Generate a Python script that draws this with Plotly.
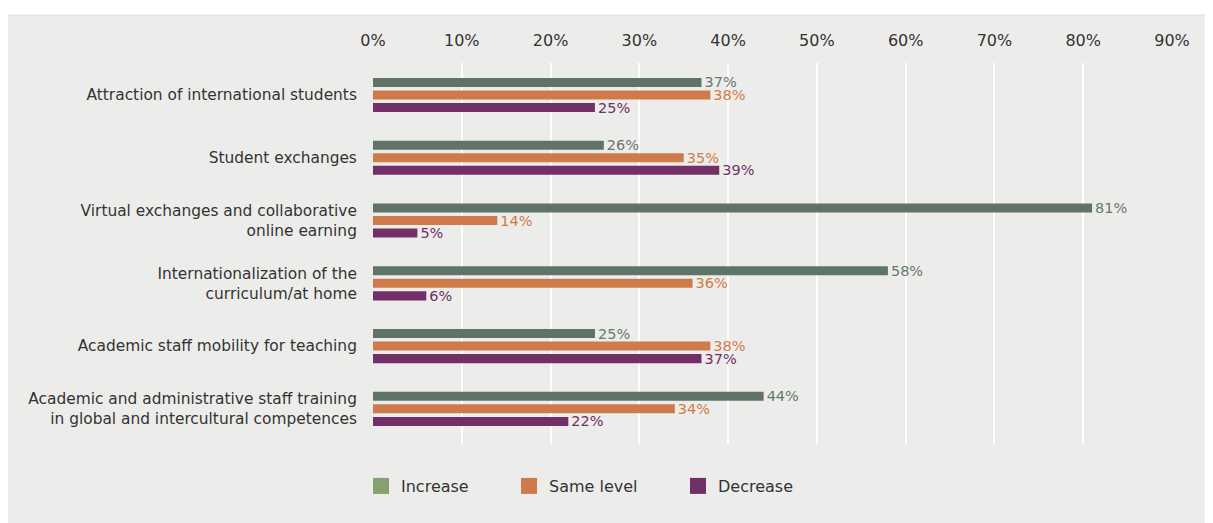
import plotly.graph_objects as go

categories = [
    "Attraction of international students",
    "Student exchanges",
    "Virtual exchanges and collaborative<br>online earning",
    "Internationalization of the<br>curriculum/at home",
    "Academic staff mobility for teaching",
    "Academic and administrative staff training<br>in global and intercultural competences",
]
increase = [37, 26, 81, 58, 25, 44]
same_level = [38, 35, 14, 36, 38, 34]
decrease = [25, 39, 5, 6, 37, 22]
series_names = ["Increase", "Same level", "Decrease"]
tick_vals = [0, 10, 20, 30, 40, 50, 60, 70, 80, 90]
tick_text = ["0%", "10%", "20%", "30%", "40%", "50%", "60%", "70%", "80%", "90%"]

bar_colors = ["#5f7367", "#cf7a4a", "#722f68"]
label_colors = ["#66786c", "#d07a48", "#722f68"]
legend_colors = ["#86a070", "#cf7a4a", "#722f68"]
FONT = "DejaVu Sans"

fig = go.Figure()
for name, vals, bc, lc in zip(series_names, [increase, same_level, decrease], bar_colors, label_colors):
    fig.add_trace(go.Bar(
        name=name, y=categories, x=vals, orientation="h",
        marker=dict(color=bc, line=dict(width=0)),
        text=[f"{v}%" for v in vals], textposition="outside",
        constraintext="none",
        textfont=dict(color=lc, size=14.5, family=FONT),
        cliponaxis=False, showlegend=False,
    ))

legend_keys = ["legend", "legend2", "legend3"]
for name, lc, lk in zip(series_names, legend_colors, legend_keys):
    fig.add_trace(go.Scatter(
        x=[None], y=[None], mode="markers", name=name,
        marker=dict(symbol="square", size=16, color=lc),
        legend=lk, showlegend=True,
    ))

OFF = 8  # page body margin
W, H = 1213 - OFF, 523 - OFF
L, R, T, B = 373 - OFF, 41, 63 - OFF, 79
pw = W - L - R
ph = H - T - B

def px_to_paper_x(px):
    return (px - OFF - L) / pw

def py_to_paper_y(py):
    return (H - B - (py - OFF)) / ph

legend_common = dict(
    orientation="h", bgcolor="rgba(0,0,0,0)", yanchor="middle",
    font=dict(family=FONT, size=16, color="#333333"),
)
fig.update_layout(
    width=W, height=H,
    margin=dict(l=L, r=R, t=T, b=B),
    paper_bgcolor="white", plot_bgcolor="rgba(0,0,0,0)",
    barmode="group", bargap=0.40, bargroupgap=0.28,
    font=dict(family=FONT, size=15, color="#333333"),
    legend=dict(x=px_to_paper_x(361), y=py_to_paper_y(486), **legend_common),
    legend2=dict(x=px_to_paper_x(509), y=py_to_paper_y(486), **legend_common),
    legend3=dict(x=px_to_paper_x(678), y=py_to_paper_y(486), **legend_common),
    xaxis=dict(
        side="top", range=[0, 90], tickvals=tick_vals, ticktext=tick_text,
        showgrid=True, gridcolor="white", gridwidth=2,
        zeroline=False, showline=False,
        ticks="outside", ticklen=10, tickcolor="rgba(0,0,0,0)",
        tickfont=dict(family=FONT, size=16, color="#333333"),
    ),
    yaxis=dict(
        categoryorder="array", categoryarray=categories,
        range=[5.56, -0.51], showgrid=False, zeroline=False, showline=False,
        ticks="outside", ticklen=12, tickcolor="rgba(0,0,0,0)",
        tickfont=dict(family=FONT, size=15.4, color="#333333"),
    ),
    shapes=[dict(
        type="rect", xref="paper", yref="paper", layer="below",
        x0=px_to_paper_x(3), x1=px_to_paper_x(1214),
        y0=py_to_paper_y(524), y1=py_to_paper_y(15),
        fillcolor="#ecedea", line=dict(width=1, color="#e0e1de"),
    )],
)

fig.write_html("out.html")
